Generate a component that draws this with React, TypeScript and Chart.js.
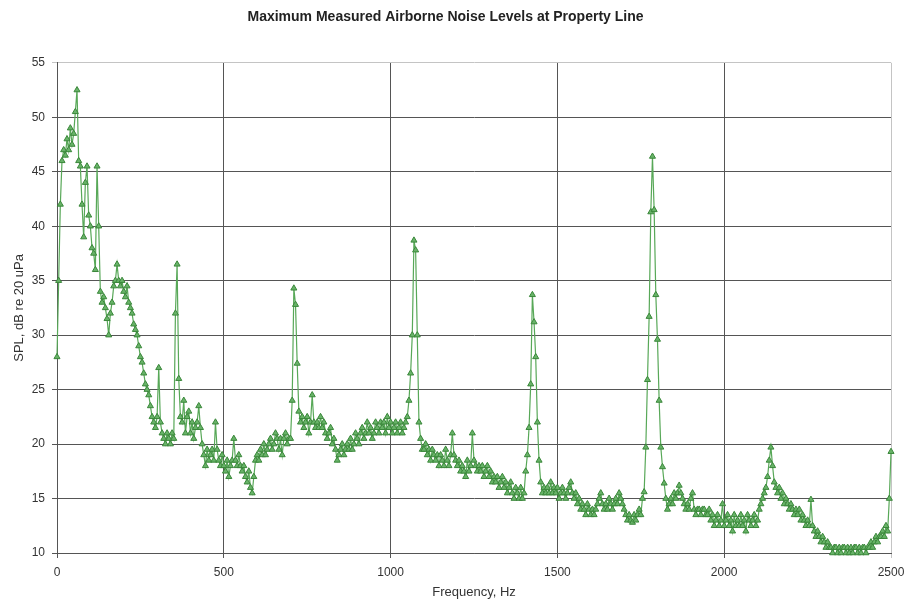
import React, { useEffect, useRef } from "react";
import { Chart, registerables } from "chart.js";

Chart.register(...registerables);

const TITLE = "Maximum Measured Airborne Noise Levels at Property Line";
const X_TITLE = "Frequency, Hz";
const Y_TITLE = "SPL, dB re 20 uPa";

const FREQ_START = 0;
const FREQ_STEP = 5;

const X_TICKS = [0, 500, 1000, 1500, 2000, 2500];
const Y_TICKS = [10, 15, 20, 25, 30, 35, 40, 45, 50, 55];

// SPL (dB re 20 uPa) every 5 Hz
const SPL_0_495 = [
  28, 35, 42, 46, 47, 46.5, 48, 47, 49, 47.5,
  48.5, 50.5, 52.5, 46, 45.5, 42, 39, 44, 45.5, 41,
  40, 38, 37.5, 36, 45.5, 40, 34, 33, 33.5, 32.5,
  31.5, 30, 32, 33, 34.5, 35, 36.5, 35, 34.5, 35,
  34, 33.5, 34.5, 33, 32.5, 32, 31, 30.5, 30, 29,
  28, 27.5, 26.5, 25.5, 25, 24.5, 23.5, 22.5, 22, 21.5,
  22.5, 27, 22, 21, 20.5, 20, 21, 20.5, 20, 21,
  20.5, 32, 36.5, 26, 22.5, 22, 24, 21, 22.5, 23,
  21, 22, 20.5, 21.5, 22, 23.5, 21.5, 20, 19, 18,
  19.5, 18.5, 19, 19.5, 18.5, 22, 19.5, 18.5, 18, 19,
];
const SPL_500_995 = [
  18, 17.5, 18.5, 17, 18, 18.5, 20.5, 18.5, 18, 19,
  18, 17.5, 18, 17, 16.5, 17.5, 16, 15.5, 17, 18.5,
  19, 18.5, 19.5, 19, 20, 19, 19.5, 20, 20.5, 19.5,
  20, 21, 20.5, 19.5, 20.5, 19, 20.5, 21, 20, 20.5,
  20.5, 24, 34.3, 32.8, 27.4, 23, 22, 22.5, 21.5, 22,
  22.5, 21, 22, 24.5, 22, 21.5, 22, 21.5, 22.5, 21.5,
  22, 21, 20.5, 21, 21.5, 20, 20.5, 19.5, 18.5, 19,
  19.5, 20, 19, 19.5, 20, 19.5, 20.5, 19.5, 20, 21,
  20.5, 20, 21, 21.5, 20.5, 21, 22, 21, 21.5, 20.5,
  21, 22, 21.5, 21, 22, 21.5, 22, 21, 22.5, 21.5,
];
const SPL_1000_1495 = [
  22, 21, 21.5, 22, 21, 21.5, 22, 21, 21.5, 22,
  22.5, 24, 26.5, 30, 38.7, 37.8, 30, 22, 20.5, 19.5,
  19.5, 20, 19, 19.5, 18.5, 19.5, 19, 18.5, 19, 18,
  19, 18.5, 18, 19.5, 18.5, 18, 19, 21, 19, 18.5,
  18, 18.5, 17.5, 18, 17.5, 17, 18.5, 17.5, 18, 21,
  18.5, 18, 17.5, 18, 17.5, 18, 17, 17.5, 18, 17,
  17.5, 16.5, 17, 16.5, 17, 16, 16.5, 17, 16, 16.5,
  15.5, 16, 16.5, 15.5, 15, 16, 15.5, 15, 16, 15,
  15.5, 17.5, 19, 21.5, 25.5, 33.7, 31.2, 28, 22, 18.5,
  16.5, 15.5, 16, 15.5, 16, 15.5, 16.5, 15.5, 16, 15.5,
];
const SPL_1500_1995 = [
  16, 15, 15.5, 16, 15.5, 15, 15.5, 16, 16.5, 15.5,
  15, 15.5, 14.5, 15, 14, 14.5, 14, 13.5, 14.5, 14,
  13.5, 14, 13.5, 14, 14.5, 15, 15.5, 14.5, 14, 14.5,
  14, 15, 14.5, 14, 14.5, 15, 14.5, 15.5, 15, 14.5,
  14, 13.5, 13, 13.5, 13, 12.8, 13.5, 13, 13.5, 14,
  13.5, 15, 15.6, 19.7, 25.9, 31.7, 41.3, 46.4, 41.5, 33.7,
  29.6, 24, 19.7, 17.9, 16.4, 15, 14, 14.5, 15, 14.5,
  15.5, 15, 15.5, 16.2, 15.5, 15, 14.5, 14, 14.5, 14,
  15, 15.5, 14, 13.5, 14, 14, 13.5, 14, 14, 13.5,
  13.5, 14, 13, 13.5, 12.5, 13, 13.5, 12.5, 13, 14.5,
];
const SPL_2000_2500 = [
  12.5, 13, 13.5, 12.5, 13, 12, 13.5, 12.5, 13, 12.5,
  13.5, 12.5, 13, 12, 13.5, 13, 12.5, 13, 13.5, 12.5,
  13, 14, 14.5, 15, 15.5, 16, 17, 18.5, 19.7, 18,
  16.5, 16, 15.5, 16, 15, 15.5, 14.5, 15, 14.5, 14,
  14.5, 14, 13.5, 14, 13.5, 14, 13, 13.5, 13, 12.5,
  13, 12.5, 14.9, 12.5, 12, 11.5, 12, 11.5, 11, 11.5,
  11, 10.5, 11, 10.5, 10.5, 10, 10.5, 10.5, 10, 10.5,
  10, 10.5, 10.5, 10, 10.5, 10, 10.5, 10, 10.5, 10.5,
  10, 10.5, 10, 10.5, 10.5, 10, 10.5, 10.5, 11, 10.5,
  11, 11.5, 11, 11.5, 11.5, 12, 11.5, 12.5, 12, 15, 19.3,
];

const FONT = "'Liberation Sans', Arial, Helvetica, sans-serif";
const GRID_DARK = "#555555";
const GRID_LIGHT = "#c4c4c4";

export default function App() {
  const ref = useRef<HTMLCanvasElement>(null);

  useEffect(() => {
    const spl = [
      ...SPL_0_495,
      ...SPL_500_995,
      ...SPL_1000_1495,
      ...SPL_1500_1995,
      ...SPL_2000_2500,
    ];
    const points = spl.map((y, i) => ({ x: FREQ_START + i * FREQ_STEP, y }));

    const chart = new Chart(ref.current as HTMLCanvasElement, {
      type: "line",
      data: {
        datasets: [
          {
            data: points,
            borderColor: "#58a858",
            borderWidth: 1.2,
            pointStyle: "triangle",
            pointRadius: 3.5,
            pointBorderWidth: 1,
            pointBorderColor: "#3a873a",
            pointBackgroundColor: "#68b368",
            tension: 0,
            clip: false as any,
          },
        ],
      },
      options: {
        responsive: false,
        animation: false,
        devicePixelRatio: 1,
        layout: { padding: { top: 0, right: 16, bottom: 0, left: 0 } },
        plugins: {
          legend: { display: false },
          tooltip: { enabled: false },
          title: {
            display: true,
            text: TITLE,
            color: "#222",
            font: { family: FONT, size: 14, weight: "bold" },
            padding: { top: 9, bottom: 37 },
          },
        },
        scales: {
          x: {
            type: "linear",
            min: X_TICKS[0],
            max: X_TICKS[X_TICKS.length - 1],
            afterBuildTicks: (s: any) => {
              s.ticks = X_TICKS.map((v) => ({ value: v }));
            },
            afterFit: (s: any) => {
              s.height = 53;
              s.paddingLeft = 0;
              s.paddingRight = 0;
            },
            ticks: {
              autoSkip: false,
              maxRotation: 0,
              color: "#333",
              padding: 7,
              font: { family: FONT, size: 12 },
              callback: (v: any) => String(v),
            },
            grid: {
              color: (ctx: any) =>
                ctx.tick && ctx.tick.value === X_TICKS[X_TICKS.length - 1]
                  ? GRID_LIGHT
                  : GRID_DARK,
              lineWidth: 1,
              tickLength: 5,
            },
            border: { color: GRID_DARK, width: 1 },
            title: {
              display: true,
              text: X_TITLE,
              color: "#333",
              font: { family: FONT, size: 13 },
              padding: { top: 0, bottom: 6 },
            },
          },
          y: {
            type: "linear",
            min: Y_TICKS[0],
            max: Y_TICKS[Y_TICKS.length - 1],
            afterBuildTicks: (s: any) => {
              s.ticks = Y_TICKS.map((v) => ({ value: v }));
            },
            afterFit: (s: any) => {
              s.width = 57;
            },
            ticks: {
              autoSkip: false,
              color: "#333",
              padding: 7,
              font: { family: FONT, size: 12 },
              callback: (v: any) => String(v),
            },
            grid: {
              color: (ctx: any) =>
                ctx.tick && ctx.tick.value === Y_TICKS[Y_TICKS.length - 1]
                  ? GRID_LIGHT
                  : GRID_DARK,
              lineWidth: 1,
              tickLength: 5,
            },
            border: { color: GRID_DARK, width: 1 },
            title: {
              display: true,
              text: Y_TITLE,
              color: "#333",
              font: { family: FONT, size: 13 },
              padding: { top: 12, bottom: 0 },
            },
          },
        },
      },
    });
    return () => chart.destroy();
  }, []);

  return (
    <div
      style={{
        position: "fixed",
        left: 0,
        top: 0,
        width: 907,
        height: 606,
        background: "#fff",
      }}
    >
      <canvas ref={ref} width={907} height={606} style={{ display: "block" }} />
    </div>
  );
}
